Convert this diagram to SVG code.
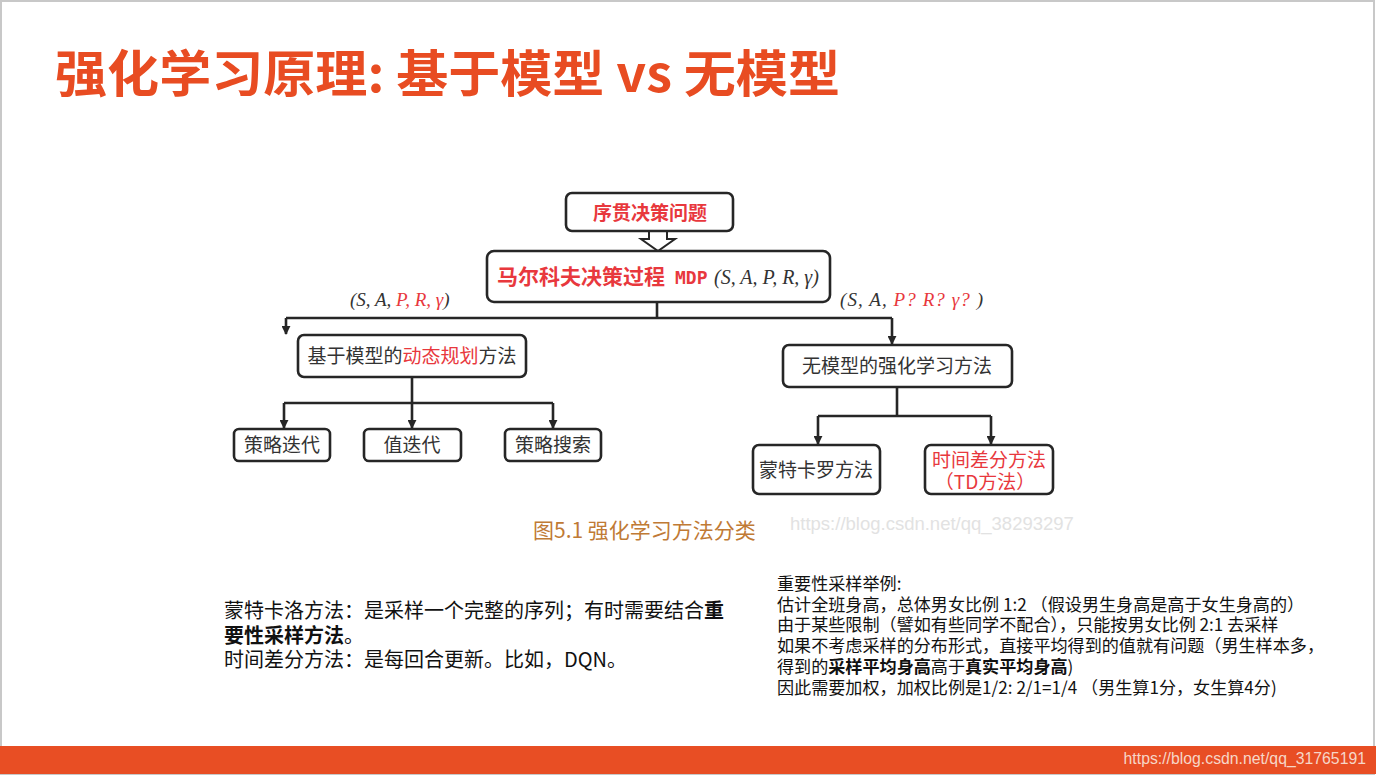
<svg xmlns="http://www.w3.org/2000/svg" width="1376" height="776" viewBox="0 0 1376 776">
<defs>
<style>
.box{fill:#fff;stroke:#262626;stroke-width:2.6}
.cn{font-family:"Noto Sans CJK SC","Noto Sans CJK JP",sans-serif}
.t{font-size:19px;fill:#333;text-anchor:middle}
.red{fill:#e8383d}
.math{font-family:"Liberation Serif","DejaVu Serif",serif;font-style:italic;fill:#333}
.line{fill:none;stroke:#262626;stroke-width:2.6}
.note{font-family:"Noto Sans CJK SC","Noto Sans CJK JP",sans-serif;fill:#111}
</style>
<marker id="ah" viewBox="0 0 10 10" refX="9" refY="5" markerWidth="9" markerHeight="9" markerUnits="userSpaceOnUse" orient="auto">
<path d="M0,0 L10,5 L0,10 Z" fill="#262626"/>
</marker>
</defs>
<rect x="0" y="0" width="1376" height="776" fill="#fff"/>
<rect x="1" y="1" width="1373" height="773" fill="none" stroke="#c8c8c8" stroke-width="2"/>
<rect x="0" y="746" width="1376" height="28" fill="#e84e24"/>
<text x="1366" y="764" font-family="Liberation Sans,Arial,sans-serif" font-size="15.8" fill="#f6d6c8" text-anchor="end">https://blog.csdn.net/qq_31765191</text>
<text class="cn" x="55" y="92" font-size="50" font-weight="bold" fill="#e84c22" textLength="785" lengthAdjust="spacingAndGlyphs">强化学习原理: 基于模型 vs 无模型</text>

<g id="connectors">
<polygon points="649,231 649,239 641,239 658,251 675,239 667,239 667,231" fill="#fff" stroke="#262626" stroke-width="2"/>
<polyline class="line" points="657,302 657,318"/>
<polyline class="line" points="286,318 892,318"/>
<polyline class="line" points="286,318 286,334" marker-end="url(#ah)"/>
<polyline class="line" points="892,318 892,344" marker-end="url(#ah)"/>
<polyline class="line" points="412,377 412,403"/>
<polyline class="line" points="284,403 553,403"/>
<polyline class="line" points="284,403 284,428" marker-end="url(#ah)"/>
<polyline class="line" points="412,403 412,428" marker-end="url(#ah)"/>
<polyline class="line" points="553,403 553,428" marker-end="url(#ah)"/>
<polyline class="line" points="897,387 897,416"/>
<polyline class="line" points="818,416 991,416"/>
<polyline class="line" points="818,416 818,444" marker-end="url(#ah)"/>
<polyline class="line" points="991,416 991,444" marker-end="url(#ah)"/>
</g>

<g id="labels">
<text x="350" y="306" font-size="19" class="math">(S, A, <tspan fill="#e8383d">P, R, γ</tspan>)</text>
<text x="840" y="306" font-size="19" class="math" textLength="143">(S, A, <tspan fill="#e8383d">P?  R?  γ? </tspan> )</text>
</g>

<g id="n1">
<rect class="box" x="566" y="193" width="167" height="38" rx="6"/>
<text class="cn t red" x="650" y="220" font-size="21" font-weight="bold">序贯决策问题</text>
</g>
<g id="n2">
<rect class="box" x="487" y="251" width="343" height="51" rx="7"/>
<text class="cn red" x="497" y="284" font-size="21" font-weight="bold">马尔科夫决策过程 <tspan x="675" font-family="DejaVu Sans Mono,Liberation Mono,monospace" font-size="18">MDP</tspan></text>
<text class="math" x="714" y="284" font-size="20">(S, A, P, R, γ)</text>
</g>
<g id="n3">
<rect class="box" x="298" y="335" width="228" height="42" rx="6"/>
<text class="cn t" x="412" y="363">基于模型的<tspan class="red">动态规划</tspan>方法</text>
</g>
<g id="n4">
<rect class="box" x="783" y="345" width="229" height="42" rx="6"/>
<text class="cn t" x="897" y="373">无模型的强化学习方法</text>
</g>
<g id="n5">
<rect class="box" x="234" y="429" width="96" height="32" rx="5"/>
<text class="cn t" x="282" y="452">策略迭代</text>
</g>
<g id="n6">
<rect class="box" x="364" y="429" width="97" height="32" rx="5"/>
<text class="cn t" x="412" y="452">值迭代</text>
</g>
<g id="n7">
<rect class="box" x="505" y="429" width="96" height="32" rx="5"/>
<text class="cn t" x="553" y="452">策略搜索</text>
</g>
<g id="n8">
<rect class="box" x="753" y="445" width="127" height="49" rx="6"/>
<text class="cn t" x="816" y="477">蒙特卡罗方法</text>
</g>
<g id="n9">
<rect class="box" x="925" y="445" width="128" height="49" rx="6"/>
<text class="cn t red" x="989" y="467" font-size="18.5">时间差分方法</text>
<text class="cn t red" x="985" y="489" font-size="18.5">（TD方法）</text>
</g>

<text class="cn" x="533" y="538" font-size="21" fill="#c07a35">图5.1 强化学习方法分类</text>
<text x="790" y="530" font-family="Liberation Sans,Arial,sans-serif" font-size="18.5" fill="#e2e2e2">https://blog.csdn.net/qq_38293297</text>

<g id="note-left" class="note" font-size="20">
<text x="224" y="618">蒙特卡洛方法：是采样一个完整的序列；有时需要结合<tspan font-weight="bold">重</tspan></text>
<text x="224" y="643"><tspan font-weight="bold">要性采样方法</tspan>。</text>
<text x="224" y="667">时间差分方法：是每回合更新。比如，DQN。</text>
</g>
<g id="note-right" class="note" font-size="17.1">
<text x="777" y="590">重要性采样举例:</text>
<text x="777" y="611">估计全班身高，总体男女比例 1:2 （假设男生身高是高于女生身高的）</text>
<text x="777" y="631">由于某些限制（譬如有些同学不配合），只能按男女比例 2:1 去采样</text>
<text x="777" y="652">如果不考虑采样的分布形式，直接平均得到的值就有问题（男生样本多，</text>
<text x="777" y="673">得到的<tspan font-weight="bold">采样平均身高</tspan>高于<tspan font-weight="bold">真实平均身高</tspan>)</text>
<text x="777" y="694">因此需要加权，加权比例是1/2: 2/1=1/4  （男生算1分，女生算4分)</text>
</g>
</svg>
